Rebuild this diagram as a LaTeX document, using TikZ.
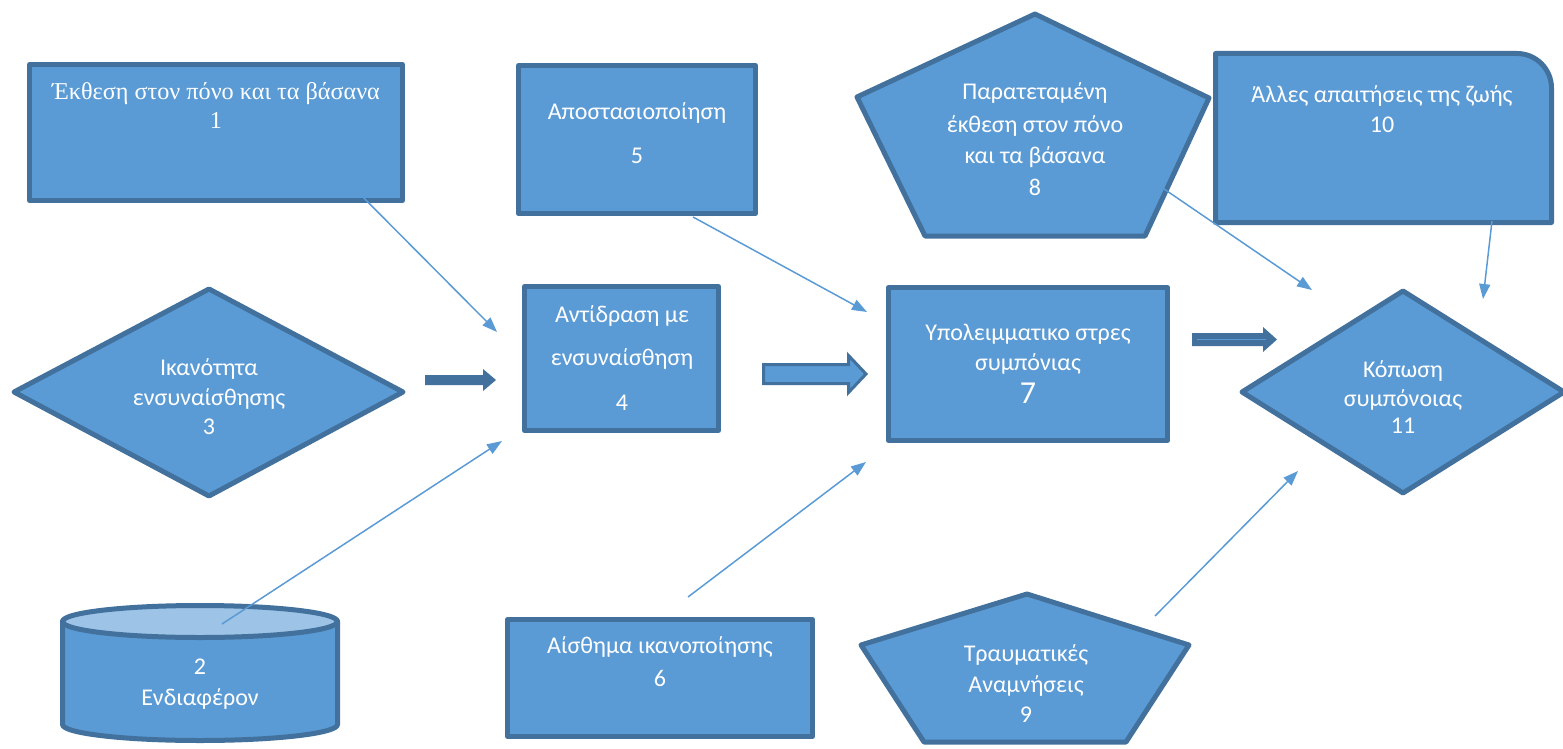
\documentclass[tikz,border=0pt]{standalone}
\usepackage{fontspec}
\setmainfont{Carlito}
\newfontfamily\serifgr{Liberation Serif}
\usetikzlibrary{arrows.meta}
\definecolor{fillb}{HTML}{5B9BD5}
\definecolor{edgeb}{HTML}{41719C}
\definecolor{topb}{HTML}{9DC3E6}
\begin{document}
\begin{tikzpicture}[x=1pt,y=-1pt,
  shp/.style={fill=fillb, draw=edgeb, line width=5pt, line join=round},
  boxn/.style={shp, rectangle, inner sep=0pt, anchor=center},
  txt/.style={text=white, anchor=base, inner sep=0pt, font=\fontsize{24}{28}\selectfont},
  stxt/.style={txt, font=\serifgr\fontsize{24.2}{28}\selectfont},
  thinarr/.style={draw=fillb, line width=1.5pt, -{Triangle[length=15pt,width=11pt]}},
]
\useasboundingbox (0,0) rectangle (1563,749);

% ---- shapes ----
\node[boxn, minimum width=373pt, minimum height=136pt] (b1) at (216,132.5) {};
\node[boxn, minimum width=237pt, minimum height=148pt] (b5) at (637,139.5) {};
\node[boxn, minimum width=194pt, minimum height=144pt] (b4) at (621.5,358.5) {};
\node[boxn, minimum width=279pt, minimum height=153pt] (b7) at (1028,364) {};
\node[boxn, minimum width=305pt, minimum height=117pt] (b6) at (660,678) {};

% box 10 with rounded top-right corner
\draw[shp] (1215.5,222.5) -- (1215.5,53.5) -- (1517,53.5)
  .. controls (1536,53.5) and (1551.5,69) .. (1551.5,88) -- (1551.5,222.5) -- cycle;
% pentagon 8
\draw[shp] (1035,14) -- (1209,98) -- (1145,236) -- (925,236) -- (857,97) -- cycle;
% pentagon 9
\draw[shp] (1027,594) -- (1189,645) -- (1126,742) -- (924,742) -- (861,645) -- cycle;
% diamond 3
\draw[shp] (14,392) -- (209,289) -- (403,392) -- (209,496) -- cycle;
% diamond 11
\draw[shp] (1242,392) -- (1403,291) -- (1564,392) -- (1403,493) -- cycle;
% cylinder 2
\draw[shp] (62.5,621.5) -- (62.5,724.5)
  .. controls (62.5,733.3) and (124.1,740.5) .. (200,740.5)
  .. controls (275.9,740.5) and (337.5,733.3) .. (337.5,724.5) -- (337.5,621.5) -- cycle;
\draw[shp, fill=topb] (200,621.5) ellipse[x radius=137.5, y radius=16];

% ---- texts ----
\node[stxt] (t1) at (216,100) {Έκθεση στον πόνο και τα βάσανα};
\node[stxt] (n1) at (216,129) {1};
\node[txt] (t5) at (637,120) {Αποστασιοποίηση};
\node[txt] (n5) at (637,163) {5};
\node[txt] (t8a) at (1035,100) {Παρατεταμένη};
\node[txt] (t8b) at (1035,132) {έκθεση στον πόνο};
\node[txt] (t8c) at (1035,163) {και τα βάσανα};
\node[txt] (n8) at (1035,195) {8};
\node[txt] (t10) at (1382,103) {Άλλες απαιτήσεις της ζωής};
\node[txt] (n10) at (1382,133) {10};
\node[txt] (t3a) at (209,375) {Ικανότητα};
\node[txt] (t3b) at (209,405) {ενσυναίσθησης};
\node[txt] (n3) at (209,434) {3};
\node[txt] (t4a) at (622,322) {Αντίδραση με};
\node[txt] (t4b) at (622,365) {ενσυναίσθηση};
\node[txt] (n4) at (622,410) {4};
\node[txt] (t7a) at (1028,340) {Υπολειμματικο στρες};
\node[txt] (t7b) at (1028,370) {συμπόνιας};
\node[txt, font=\fontsize{32}{36}\selectfont] (n7) at (1028,403) {7};
\node[txt] (t11a) at (1403,377) {Κόπωση};
\node[txt] (t11b) at (1403,406) {συμπόνοιας};
\node[txt] (n11) at (1403,433) {11};
\node[txt] (n2) at (200,674) {2};
\node[txt] (t2) at (200,705) {Ενδιαφέρον};
\node[txt] (t6) at (660,653) {Αίσθημα ικανοποίησης};
\node[txt] (n6) at (660,686) {6};
\node[txt] (t9a) at (1026,661) {Τραυματικές};
\node[txt] (t9b) at (1026,692) {Αναμνήσεις};
\node[txt] (n9) at (1026,722) {9};

% ---- block arrows ----
\fill[edgeb] (425,375) -- (483,375) -- (483,369) -- (496,380) -- (483,391) -- (483,385) -- (425,385) -- cycle;
\draw[fill=fillb, draw=edgeb, line width=3pt, line join=miter]
  (763.5,364.5) -- (848.5,364.5) -- (848.5,355.5) -- (866,374) -- (848.5,392.5) -- (848.5,383.5) -- (763.5,383.5) -- cycle;
\fill[edgeb] (1192,333) -- (1263,333) -- (1263,327) -- (1277,339.5) -- (1263,352) -- (1263,346) -- (1192,346) -- cycle;
\draw[fillb, line width=1.5pt] (1197,339.5) -- (1266,339.5);

% ---- thin connectors ----
\coordinate (s1) at (338,172);   \coordinate (e1) at (497,332);
\coordinate (s2) at (222,624);   \coordinate (e2) at (502,441);
\coordinate (s5) at (693,217);   \coordinate (e5) at (867,312);
\coordinate (s6) at (688,597);   \coordinate (e6) at (866,462);
\coordinate (s8) at (1145,176);  \coordinate (e8) at (1312,290);
\coordinate (s10) at (1492,221); \coordinate (e10) at (1483,299);
\coordinate (s9) at (1155,616);  \coordinate (e9) at (1298,471);
\draw[thinarr] (s1) -- (e1);
\draw[thinarr] (s2) -- (e2);
\draw[thinarr] (s5) -- (e5);
\draw[thinarr] (s6) -- (e6);
\draw[thinarr] (s8) -- (e8);
\draw[thinarr] (s10) -- (e10);
\draw[thinarr] (s9) -- (e9);
\end{tikzpicture}
\end{document}
